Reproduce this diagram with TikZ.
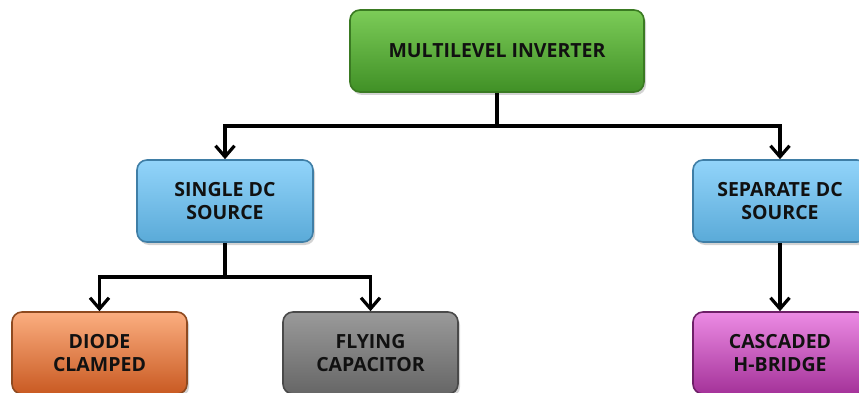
\documentclass[tikz,border=0pt]{standalone}
\usepackage{fontspec}
\setmainfont{Open Sans}
\usetikzlibrary{arrows.meta,shadows}
\definecolor{gtop}{HTML}{7CCC58}
\definecolor{gmid}{HTML}{55B030}
\definecolor{gbot}{HTML}{409026}
\definecolor{gbrd}{HTML}{3A7A22}
\definecolor{btop}{HTML}{92D4FA}
\definecolor{bmid}{HTML}{6DC2F5}
\definecolor{bbot}{HTML}{5AAAD8}
\definecolor{bbrd}{HTML}{3F7EA6}
\definecolor{otop}{HTML}{FBAE80}
\definecolor{omid}{HTML}{F08040}
\definecolor{obot}{HTML}{C95A22}
\definecolor{obrd}{HTML}{8E4A20}
\definecolor{ytop}{HTML}{9A9A9A}
\definecolor{ymid}{HTML}{7C7C7C}
\definecolor{ybot}{HTML}{666666}
\definecolor{ybrd}{HTML}{4A4A4A}
\definecolor{mtop}{HTML}{EC8BE4}
\definecolor{mmid}{HTML}{C74CBF}
\definecolor{mbot}{HTML}{A43299}
\definecolor{mbrd}{HTML}{6E2068}
\definecolor{txt}{HTML}{111111}
\tikzset{
  box/.style={rounded corners=10pt, minimum height=82pt, line width=1.6pt,
    align=center, text=txt, font=\fontsize{19.5}{23}\selectfont\bfseries,
    drop shadow={shadow xshift=2pt, shadow yshift=-3pt, opacity=0.35}},
  greenbox/.style={box, draw=gbrd, top color=gtop, middle color=gmid, bottom color=gbot},
  bluebox/.style={box, draw=bbrd, top color=btop, middle color=bmid, bottom color=bbot},
  orangebox/.style={box, draw=obrd, top color=otop, middle color=omid, bottom color=obot},
  graybox/.style={box, draw=ybrd, top color=ytop, middle color=ymid, bottom color=ybot},
  magbox/.style={box, draw=mbrd, top color=mtop, middle color=mmid, bottom color=mbot},
  conn/.style={line width=3.2pt, draw=black},
  arr/.style={conn, -{Straight Barb[length=11pt,width=19pt,line width=3.2pt]}}
}
\begin{document}
\begin{tikzpicture}[x=1pt,y=-1pt]
\useasboundingbox (0,0) rectangle (859,393);
\clip (0,0) rectangle (859,393);
\node[greenbox, minimum width=294pt] (top) at (497,51) {MULTILEVEL INVERTER};
\node[bluebox, minimum width=176pt] (single) at (225,201) {SINGLE DC\\SOURCE};
\node[bluebox, minimum width=174pt] (separate) at (780,201) {SEPARATE DC\\SOURCE};
\node[orangebox, minimum width=175pt] (diode) at (99.5,353) {DIODE\\CLAMPED};
\node[graybox, minimum width=175pt] (flying) at (370.5,353) {FLYING\\CAPACITOR};
\node[magbox, minimum width=174pt] (cascaded) at (780,353) {CASCADED\\H-BRIDGE};
\coordinate (j1) at (497,126);
\coordinate (j2) at (225,277);
\draw[conn] (top.south) -- (j1);
\draw[arr] (j1) -| (single.north);
\draw[arr] (j1) -| (separate.north);
\draw[conn] (single.south) -- (j2);
\draw[arr] (j2) -| (diode.north);
\draw[arr] (j2) -| (flying.north);
\draw[arr] (separate.south) -- (cascaded.north);
\end{tikzpicture}
\end{document}
